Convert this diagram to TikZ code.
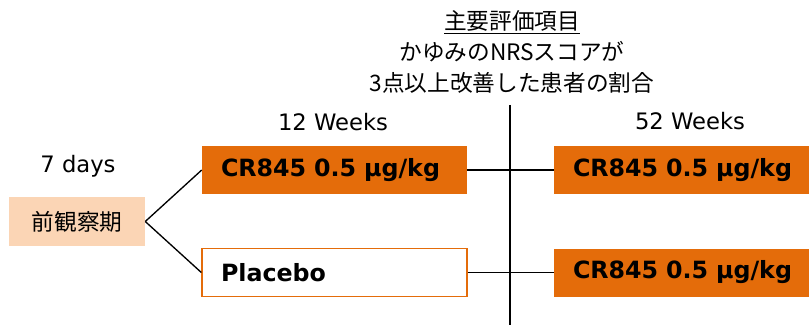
\documentclass[tikz,border=0pt]{standalone}
\usepackage{fontspec}
\setmainfont{DejaVu Sans}
\newfontfamily\cjk{Noto Sans CJK JP}
\usetikzlibrary{positioning}

\definecolor{armorange}{HTML}{E46C0A}
\definecolor{runpeach}{HTML}{FBD5B5}

\tikzset{
    txt/.style={font=\fontsize{17}{23}\selectfont, inner sep=0pt},
    dosebox/.style={fill=armorange, font=\bfseries\fontsize{17.8}{20}\selectfont,
        inner xsep=14.25pt, inner ysep=0pt, minimum height=36pt, align=left},
    placebobox/.style={dosebox, fill=white, draw=armorange, line width=1pt},
    link/.style={line width=1pt}
}

\begin{document}
\begin{tikzpicture}[x=0.75pt, y=0.75pt]

    % Canvas of the reference (809 x 325 px)
    \useasboundingbox (0,0) rectangle (809,325);

    % 1. Run-in period
    \node[fill=runpeach, minimum width=102pt, minimum height=36.75pt,
          font=\cjk\fontsize{17}{20}\selectfont] (obs) at (77,103.5) {前観察期};
    \node[txt] (days) at (78,159) {7 days};

    % 2. Double-blind arms (12 weeks)
    \node[dosebox, text width=170.25pt] (armA) at (334.5,155) {CR845 0.5 μg/kg};
    \node[placebobox, text width=170.25pt] (armB) at (334.5,52.5) {Placebo};
    \node[txt] (w12) at (333,203) {12 Weeks};

    % 3. Open-label extension (52 weeks), boxes run past the right edge
    \node[dosebox, text width=180pt] (extA) at (693,155) {CR845 0.5 μg/kg};
    \node[dosebox, text width=180pt] (extB) at (693,52.5) {CR845 0.5 μg/kg};
    \node[txt] (w52) at (690,204) {52 Weeks};

    % 4. Primary endpoint and its time line
    \node[txt, font=\cjk\fontsize{17}{23}\selectfont, align=center] (goal) at (512,273)
        {\underline{主要評価項目}\\かゆみのNRSスコアが\\3点以上改善した患者の割合};
    \coordinate (cutT) at (510,220);
    \coordinate (cutB) at (510,0);
    \draw[link] (cutT) -- (cutB);

    % 5. Connectors
    \draw[link] (obs.east) -- (armA.west);
    \draw[link] (obs.east) -- (armB.west);
    \draw[link] (armA.east) -- (extA.west);
    \draw[link] (armB.east) -- (extB.west);

\end{tikzpicture}
\end{document}
